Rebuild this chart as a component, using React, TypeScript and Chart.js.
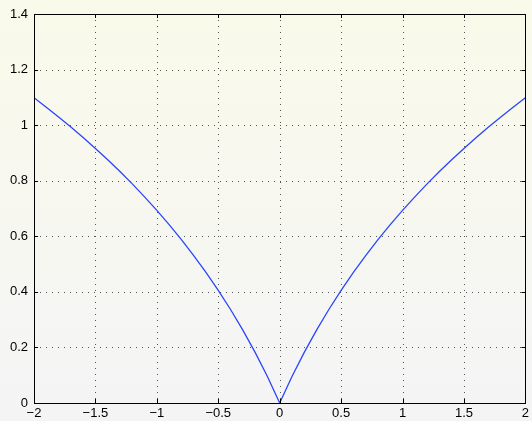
import React, { useEffect, useRef } from "react";
import { Chart, registerables } from "chart.js";

Chart.register(...registerables);

const xValues = [-2, -1.9, -1.8, -1.7, -1.6, -1.5, -1.4, -1.3, -1.2, -1.1, -1, -0.9, -0.8, -0.7, -0.6, -0.5, -0.4, -0.3, -0.2, -0.1, 0, 0.1, 0.2, 0.3, 0.4, 0.5, 0.6, 0.7, 0.8, 0.9, 1, 1.1, 1.2, 1.3, 1.4, 1.5, 1.6, 1.7, 1.8, 1.9, 2];
const yValues = [1.0986, 1.0647, 1.0296, 0.9933, 0.9555, 0.9163, 0.8755, 0.8329, 0.7885, 0.7419, 0.6931, 0.6419, 0.5878, 0.5306, 0.47, 0.4055, 0.3365, 0.2624, 0.1823, 0.0953, 0, 0.0953, 0.1823, 0.2624, 0.3365, 0.4055, 0.47, 0.5306, 0.5878, 0.6419, 0.6931, 0.7419, 0.7885, 0.8329, 0.8755, 0.9163, 0.9555, 0.9933, 1.0296, 1.0647, 1.0986];
const xTicks = [-2, -1.5, -1, -0.5, 0, 0.5, 1, 1.5, 2];
const yTicks = [0, 0.2, 0.4, 0.6, 0.8, 1, 1.2, 1.4];

const fmt = (v: number) => {
  const s = String(Number(v.toFixed(2)));
  return s.startsWith("-") ? "\u2212" + s.slice(1) : s;
};

const matlabPlugin = {
  id: "matlabLook",
  beforeDraw(chart: any) {
    const { ctx, width, height } = chart;
    const g = ctx.createLinearGradient(0, 0, 0, height);
    g.addColorStop(0, "#fafaea");
    g.addColorStop(1, "#f4f4f6");
    ctx.save();
    ctx.fillStyle = g;
    ctx.fillRect(0, 0, width, height);
    const { left, right, top, bottom } = chart.chartArea;
    const xs = chart.scales.x;
    const ys = chart.scales.y;
    ctx.strokeStyle = "#555";
    ctx.lineWidth = 1;
    ctx.setLineDash([1, 5]);
    xTicks.forEach((t) => {
      const px = Math.round(xs.getPixelForValue(t)) + 0.5;
      if (px <= left + 1 || px >= right - 1) return;
      ctx.beginPath();
      ctx.moveTo(px, top);
      ctx.lineTo(px, bottom);
      ctx.stroke();
    });
    yTicks.forEach((t) => {
      const py = Math.round(ys.getPixelForValue(t)) + 0.5;
      if (py <= top + 1 || py >= bottom - 1) return;
      ctx.beginPath();
      ctx.moveTo(left, py);
      ctx.lineTo(right, py);
      ctx.stroke();
    });
    ctx.restore();
  },
  afterDraw(chart: any) {
    const { ctx } = chart;
    const { left, right, top, bottom } = chart.chartArea;
    const xs = chart.scales.x;
    const ys = chart.scales.y;
    ctx.save();
    ctx.strokeStyle = "#000";
    ctx.lineWidth = 1;
    ctx.setLineDash([]);
    const L = 4;
    xTicks.forEach((t) => {
      const px = Math.round(xs.getPixelForValue(t)) + 0.5;
      ctx.beginPath();
      ctx.moveTo(px, bottom);
      ctx.lineTo(px, bottom - L);
      ctx.moveTo(px, top);
      ctx.lineTo(px, top + L);
      ctx.stroke();
    });
    yTicks.forEach((t) => {
      const py = Math.round(ys.getPixelForValue(t)) + 0.5;
      ctx.beginPath();
      ctx.moveTo(left, py);
      ctx.lineTo(left + L, py);
      ctx.moveTo(right, py);
      ctx.lineTo(right - L, py);
      ctx.stroke();
    });
    ctx.strokeRect(Math.round(left) + 0.5, Math.round(top) + 0.5, Math.round(right - left), Math.round(bottom - top));
    ctx.restore();
  },
};

export default function App() {
  const ref = useRef<HTMLCanvasElement>(null);
  useEffect(() => {
    document.body.style.margin = "0";
    const canvas = ref.current!;
    const chart = new Chart(canvas, {
      type: "scatter",
      data: {
        datasets: [
          {
            data: xValues.map((x, i) => ({ x, y: yValues[i] })),
            showLine: true,
            borderColor: "#2b45ff",
            borderWidth: 1.3,
            pointRadius: 0,
            tension: 0,
          },
        ],
      },
      options: {
        animation: false,
        responsive: false,
        devicePixelRatio: 1,
        layout: { padding: { left: 0, top: 14, right: 4, bottom: 0 } },
        plugins: { legend: { display: false }, tooltip: { enabled: false } },
        scales: {
          x: {
            type: "linear",
            min: -2,
            max: 2,
            afterFit: (s: any) => { s.height = 18; },
            afterBuildTicks: (s: any) => { s.ticks = xTicks.map((v) => ({ value: v })); },
            grid: { display: false, drawTicks: false },
            border: { display: false },
            ticks: {
              padding: 3,
              color: "#000",
              font: { family: "'Liberation Sans', Arial, sans-serif", size: 13 },
              maxRotation: 0,
              autoSkip: false,
              callback: (v: any) => fmt(Number(v)),
            },
          },
          y: {
            type: "linear",
            min: 0,
            max: 1.4,
            afterFit: (s: any) => { s.width = 34; },
            afterBuildTicks: (s: any) => { s.ticks = yTicks.map((v) => ({ value: v })); },
            grid: { display: false, drawTicks: false },
            border: { display: false },
            ticks: {
              padding: 6,
              color: "#000",
              font: { family: "'Liberation Sans', Arial, sans-serif", size: 13 },
              autoSkip: false,
              callback: (v: any) => fmt(Number(v)),
            },
          },
        },
      },
      plugins: [matlabPlugin],
    });
    return () => chart.destroy();
  }, []);
  return <canvas ref={ref} width={532} height={421} style={{ display: "block" }} />;
}
